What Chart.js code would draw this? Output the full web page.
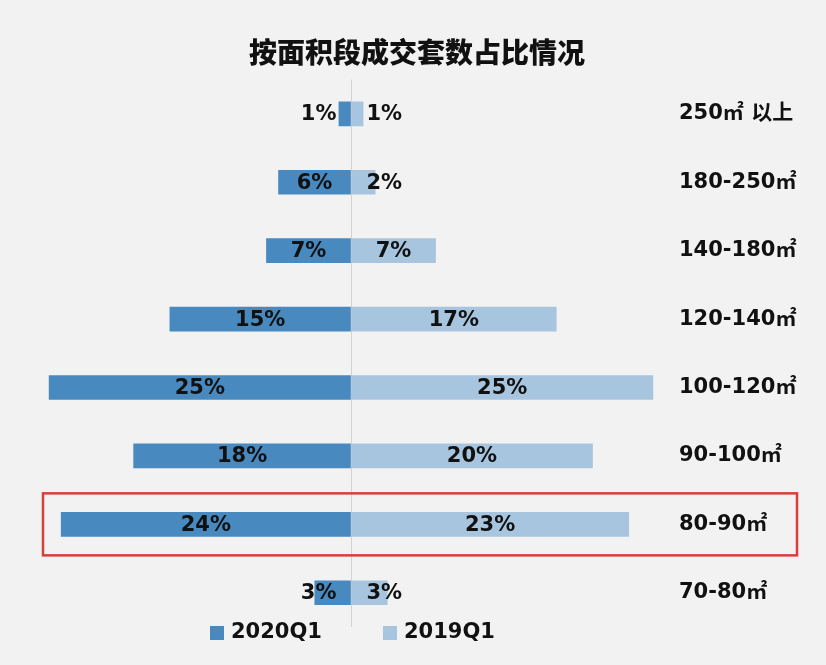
<!DOCTYPE html>
<html>
<head>
<meta charset="utf-8">
<script src="https://cdn.jsdelivr.net/npm/chart.js@4"></script>
<style>
  html, body { margin: 0; padding: 0; background: #f2f2f2; }
  #wrap { width: 826px; height: 665px; }
</style>
</head>
<body>
<div id="wrap"><canvas id="area-chart" width="826" height="665"></canvas></div>
<script>
const chartTitle = '按面积段成交套数占比情况';
const areaBands = ['250㎡ 以上', '180-250㎡', '140-180㎡', '120-140㎡', '100-120㎡', '90-100㎡', '80-90㎡', '70-80㎡'];
const share2020Q1 = [1, 6, 7, 15, 25, 18, 24, 3];
const share2019Q1 = [1, 2, 7, 17, 25, 20, 23, 3];
const highlightBand = '80-90㎡';

const NUM_FONT = '"DejaVu Sans", "Noto Sans CJK SC", sans-serif';
const DARK_BLUE = '#4889c0';
const LIGHT_BLUE = '#a7c5de';

// values printed on the bars, small bars get the label next to the axis
const barLabels = {
  id: 'barLabels',
  afterDatasetsDraw(chart) {
    const ctx = chart.ctx;
    ctx.save();
    ctx.font = 'bold 21px ' + NUM_FONT;
    ctx.fillStyle = '#111';
    ctx.textBaseline = 'middle';
    chart.data.datasets.forEach((ds, di) => {
      const meta = chart.getDatasetMeta(di);
      const values = di === 0 ? share2020Q1 : share2019Q1;
      meta.data.forEach((bar, i) => {
        const text = values[i] + '%';
        const tw = ctx.measureText(text).width;
        const w = Math.abs(bar.x - bar.base);
        if (w >= tw + 30) {
          ctx.textAlign = 'center';
          ctx.fillText(text, (bar.x + bar.base) / 2, bar.y + 1);
        } else if (di === 0) {
          ctx.textAlign = 'right';
          ctx.fillText(text, bar.base - 14, bar.y + 1);
        } else {
          ctx.textAlign = 'left';
          ctx.fillText(text, bar.base + 15, bar.y + 1);
        }
      });
    });
    ctx.restore();
  }
};

// red frame around the highlighted band + legend under the plot
const extras = {
  id: 'extras',
  beforeDraw(chart) {
    const ctx = chart.ctx;
    ctx.save();
    ctx.fillStyle = '#f2f2f2';
    ctx.fillRect(0, 0, chart.width, chart.height);
    ctx.restore();
  },
  afterDraw(chart) {
    const ctx = chart.ctx;
    const y = chart.scales.y.getPixelForValue(areaBands.indexOf(highlightBand));
    ctx.save();
    ctx.strokeStyle = '#d6403a';
    ctx.lineWidth = 2.5;
    ctx.strokeRect(43, y - 31, 754, 62);

    const items = [{ x: 210, ds: chart.data.datasets[0] }, { x: 383, ds: chart.data.datasets[1] }];
    ctx.font = 'bold 21px ' + NUM_FONT;
    ctx.textBaseline = 'middle';
    ctx.textAlign = 'left';
    items.forEach(item => {
      ctx.fillStyle = item.ds.backgroundColor;
      ctx.fillRect(item.x, 626, 14, 14);
      ctx.fillStyle = '#111';
      ctx.fillText(item.ds.label, item.x + 21, 633);
    });
    ctx.restore();
  }
};

const ctx = document.getElementById('area-chart').getContext('2d');
new Chart(ctx, {
  type: 'bar',
  data: {
    labels: areaBands,
    datasets: [{
      label: '2020Q1',
      data: share2020Q1.map(v => -v),
      backgroundColor: DARK_BLUE,
      barThickness: 24
    }, {
      label: '2019Q1',
      data: share2019Q1,
      backgroundColor: LIGHT_BLUE,
      barThickness: 24
    }]
  },
  options: {
    indexAxis: 'y',
    responsive: false,
    animation: false,
    layout: { padding: { left: 31, right: 23, top: 20, bottom: 38 } },
    plugins: {
      legend: { display: false },
      tooltip: { enabled: false },
      title: {
        display: true,
        text: chartTitle,
        color: '#111',
        font: { family: '"Noto Sans CJK SC", sans-serif', size: 28, weight: 900 },
        padding: { top: 16, bottom: 10 }
      }
    },
    scales: {
      x: {
        stacked: true,
        min: -26.5,
        max: 26.5,
        ticks: { display: false, stepSize: 5 },
        border: { display: false },
        grid: {
          drawTicks: false,
          color: c => (c.tick && c.tick.value === 0 ? '#d2d2d2' : 'rgba(0,0,0,0)')
        },
        afterFit: s => { s.height = 0; }
      },
      y: {
        stacked: true,
        position: 'right',
        border: { display: false },
        grid: { display: false, drawTicks: false },
        ticks: {
          color: '#111',
          padding: 8,
          font: { family: NUM_FONT, size: 21, weight: 'bold' }
        },
        afterFit: s => { s.width = 132; }
      }
    }
  },
  plugins: [barLabels, extras]
});
</script>
</body>
</html>
